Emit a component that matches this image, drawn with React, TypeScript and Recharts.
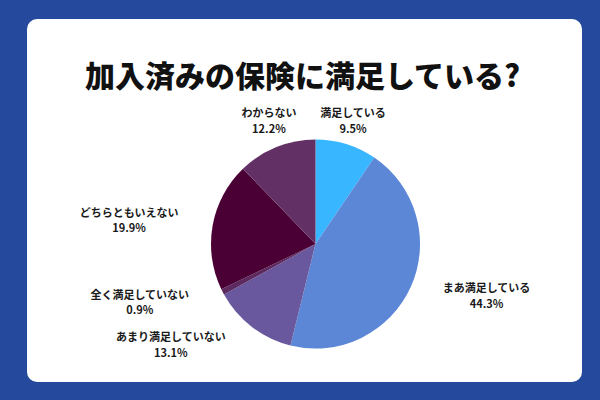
import { PieChart, Pie, Cell } from 'recharts'

const categories = [
    '満足している',
    'まあ満足している',
    'あまり満足していない',
    '全く満足していない',
    'どちらともいえない',
    'わからない',
]
const shares = [9.5, 44.3, 13.1, 0.9, 19.9, 12.2]
const sliceColors = ['#38b6ff', '#5b87d6', '#6a589f', '#5c2a5e', '#4a0034', '#623064']

// label nudges (dx, dy) from the point just outside each slice's middle
const labelNudges: [number, number][] = [
    [-1.5, 4],
    [50, -2],
    [-64, -4],
    [-58, -2],
    [-56, 0],
    [3, 0],
]

const data = categories.map((name, i) => ({ name, value: shares[i] }))

const RADIAN = Math.PI / 180
const FONT = '"Noto Sans CJK JP", "Noto Sans", sans-serif'

interface LabelProps {
    cx: number
    cy: number
    midAngle: number
    outerRadius: number
    index: number
}

function SliceLabel({ cx, cy, midAngle, outerRadius, index }: LabelProps) {
    const r = outerRadius + 28
    const [dx, dy] = labelNudges[index]
    const x = cx + r * Math.cos(-midAngle * RADIAN) + dx
    const y = cy + r * Math.sin(-midAngle * RADIAN) + dy
    return (
        <text
            x={x}
            y={y}
            textAnchor="middle"
            fontFamily={FONT}
            fontSize={11}
            fontWeight={700}
            fill="#1a1a1a"
        >
            <tspan x={x} dy={-4}>{categories[index]}</tspan>
            <tspan x={x} dy={15.5}>{shares[index].toFixed(1)}%</tspan>
        </text>
    )
}

export default function App() {
    return (
        <div
            style={{
                position: 'absolute',
                left: 0,
                top: 0,
                width: 600,
                height: 400,
                background: '#25499c',
                overflow: 'hidden',
            }}
        >
            <div
                style={{
                    position: 'absolute',
                    left: 27,
                    top: 19,
                    width: 555,
                    height: 363,
                    background: '#ffffff',
                    borderRadius: 10,
                }}
            />
            <div
                style={{
                    position: 'absolute',
                    left: 0,
                    top: 52,
                    width: 605,
                    textAlign: 'center',
                    fontFamily: FONT,
                    fontSize: 30,
                    fontWeight: 900,
                    lineHeight: '44px',
                    color: '#111111',
                }}
            >
                加入済みの保険に満足している?
            </div>
            <div style={{ position: 'absolute', left: 0, top: 0 }}>
                <PieChart
                    width={600}
                    height={400}
                    margin={{ top: 0, right: 0, bottom: 0, left: 0 }}
                >
                    <Pie
                        data={data}
                        dataKey="value"
                        nameKey="name"
                        cx={315.5}
                        cy={244}
                        outerRadius={104.5}
                        startAngle={90}
                        endAngle={-270}
                        stroke="none"
                        label={SliceLabel}
                        labelLine={false}
                        isAnimationActive={false}
                    >
                        {data.map((d, i) => (
                            <Cell key={d.name} fill={sliceColors[i]} />
                        ))}
                    </Pie>
                </PieChart>
            </div>
        </div>
    )
}
